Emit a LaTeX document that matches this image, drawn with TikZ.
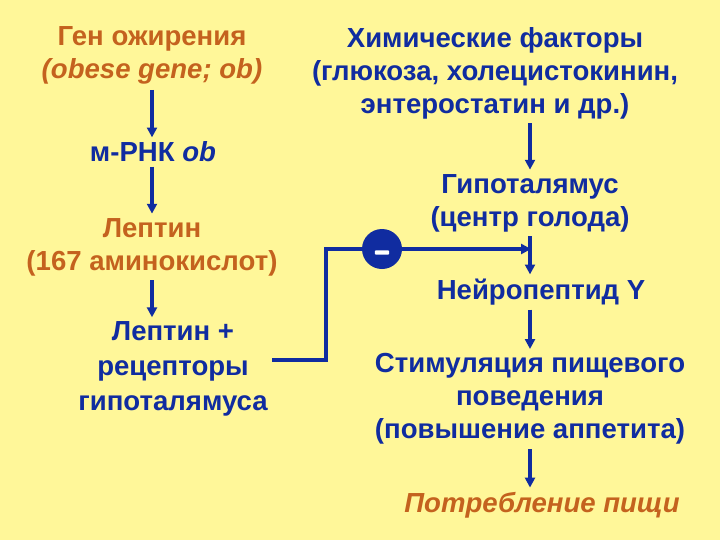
\documentclass[tikz,border=0pt]{standalone}
\usepackage{fontspec}
\setmainfont{Liberation Sans}
\usepackage{tikz}
\usetikzlibrary {arrows.meta}
\definecolor{bgyellow}{RGB}{255,247,153}
\definecolor{txtbrown}{RGB}{196,98,30}
\definecolor{txtblue}{RGB}{16,44,160}
\tikzset{
  brn/.style={text=txtbrown,font=\fontsize{19.6}{23.5}\selectfont\bfseries,align=center,inner sep=1pt},
  blu/.style={text=txtblue,font=\fontsize{19.6}{23.5}\selectfont\bfseries,align=center,inner sep=1pt},
  arr/.style={txtblue,line width=2.2pt,-{Triangle[length=7pt,width=7pt]}},
  lin/.style={txtblue,line width=2.2pt}
}
\begin{document}
\begin{tikzpicture}[x=0.025cm,y=-0.025cm]
        \fill[bgyellow] (0,0) rectangle (720,540);%фон
        \useasboundingbox (0,0) rectangle (720,540);

        % левая колонка
        \node[brn] (gen) at (152,55) {Ген ожирения\\\itshape (obese gene; ob)};
        \node[blu] (mrna) at (153,152) {м-РНК \itshape ob};
        \node[brn] (lep) at (152,247) {Лептин\\(167 аминокислот)};
        \node[blu,font=\fontsize{19.6}{24.8}\selectfont\bfseries] (rec) at (173,369) {Лептин +\\рецепторы\\гипоталямуса};

        % правая колонка
        \node[blu] (chem) at (495,73) {Химические факторы\\(глюкоза, холецистокинин,\\энтеростатин и др.)};
        \node[blu] (hyp) at (530,203) {Гипоталямус\\(центр голода)};
        \node[blu] (npy) at (541,292) {Нейропептид Y};
        \node[blu] (stim) at (530,399) {Стимуляция пищевого\\поведения\\(повышение аппетита)};
        \node[brn,font=\fontsize{19.6}{23.5}\selectfont\bfseries\itshape] (food) at (542,505) {Потребление пищи};

        \node[circle,fill=txtblue,minimum size=1cm,inner sep=0pt] (minus) at (382,249) {};
        \fill[white,rounded corners=0.6pt]([xshift=-5pt,yshift=-1pt]minus.center) rectangle ([xshift=5pt,yshift=-4pt]minus.center);%знак минус
        \coordinate (b) at (326,360);
        \coordinate (j) at (531,249);

        \draw[arr]([yshift=-3pt]gen.south)--([yshift=2pt]gen.south |- mrna.north);
        \draw[arr]([yshift=-2pt]mrna.south -| gen.south)--([yshift=2pt]gen.south |- lep.north);
        \draw[arr]([yshift=-2pt]lep.south)--([yshift=2pt]lep.south |- rec.north);

        \draw[arr]([yshift=-2pt]hyp.north |- chem.south)--([yshift=2pt]hyp.north);
        \draw[arr]([yshift=-2pt]hyp.south)--([yshift=2pt]hyp.south |- npy.north);
        \draw[arr]([yshift=-2pt]hyp.south |- npy.south)--([yshift=2pt]hyp.south |- stim.north);
        \draw[arr]([yshift=-2pt]hyp.south |- stim.south)--([yshift=2pt]hyp.south |- food.north);

        \draw[lin]([xshift=2pt]rec.east |- b)--(b) |- (minus);%торможение
        \draw[arr](minus)--(j);
      \end{tikzpicture}
\end{document}
